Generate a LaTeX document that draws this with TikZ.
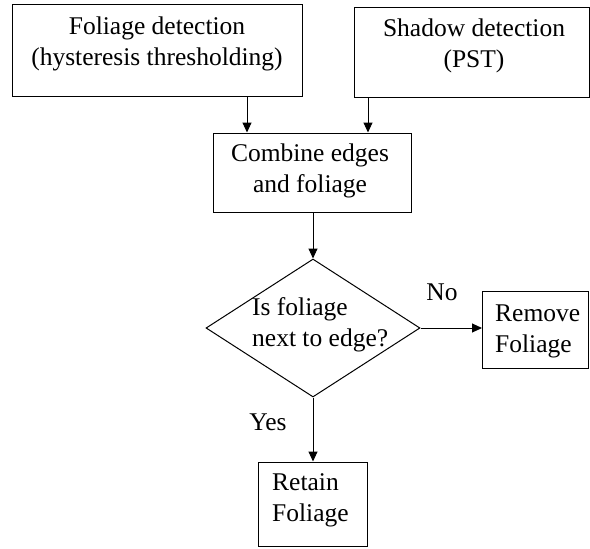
\documentclass[tikz,border=0pt]{standalone}
\usepackage{fontspec}
\setmainfont{Liberation Serif}
\usetikzlibrary{arrows.meta,shapes.geometric}
\begin{document}
\begin{tikzpicture}[x=1pt,y=-1pt,
  box/.style={draw=black,line width=1pt,rectangle,inner sep=0pt},
  txt/.style={inner sep=0pt,font=\rmfamily\fontsize{25.5}{31}\selectfont},
  conn/.style={draw=black,line width=1pt,-{Triangle[length=10pt,width=9pt]}}]
\useasboundingbox (0,0) rectangle (590,549);
% boxes
\node[box,minimum width=290pt,minimum height=92pt] (b1) at (157,50) {};
\node[box,minimum width=235pt,minimum height=90pt] (b2) at (471.5,52) {};
\node[box,minimum width=198pt,minimum height=79pt] (b3) at (312,172.5) {};
\node[draw=black,line width=1pt,diamond,aspect=1.55,inner sep=0pt,minimum width=214pt,minimum height=138pt] (d) at (313,328) {};
\node[box,minimum width=106pt,minimum height=77pt] (rm) at (535.5,329.5) {};
\node[box,minimum width=109pt,minimum height=84pt] (rt) at (312.5,504) {};
% texts
\node[txt,align=center] (t1) at (157,44) {Foliage detection\\(hysteresis thresholding)};
\node[txt,align=center] (t2) at (474,46) {Shadow detection\\(PST)};
\node[txt,align=center] (t3) at (310,171) {Combine edges\\and foliage};
\node[txt,align=left,anchor=west] (t4) at (252,325) {Is foliage\\next to edge?};
\node[txt,align=left,anchor=west] (t5) at (495,331) {Remove\\Foliage};
\node[txt,align=left,anchor=west] (t6) at (272,500) {Retain\\Foliage};
\node[txt] (no) at (442,292) {No};
\node[txt] (yes) at (268,422) {Yes};
% connector anchors
\coordinate (x1) at (247,0);
\coordinate (x2) at (368,0);
% connectors
\draw[conn] (b1.south -| x1) -- (b3.north -| x1);
\draw[conn] (b2.south -| x2) -- (b3.north -| x2);
\draw[conn] (b3.south -| d.north) -- (d.north);
\draw[conn] (d.east) -- (rm.west |- d.east);
\draw[conn] (d.south) -- (rt.north -| d.south);
\end{tikzpicture}
\end{document}
